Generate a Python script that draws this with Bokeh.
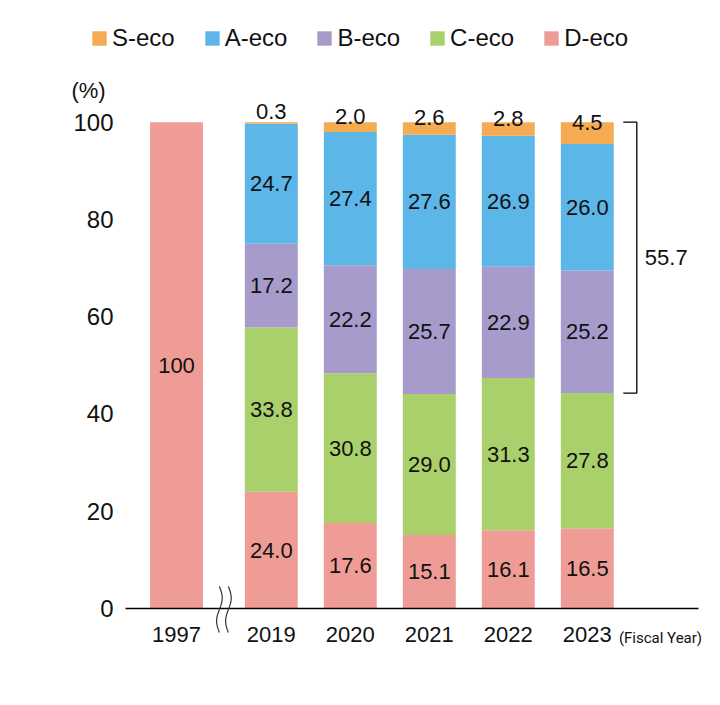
import math
from bokeh.plotting import figure
from bokeh.models import (ColumnDataSource, Legend, LegendItem, FixedTicker,
                          Label, Range1d)
from bokeh.core.properties import value
from bokeh.embed import file_html
from bokeh.resources import INLINE

# ---------------- data ----------------
years = ["1997", "2019", "2020", "2021", "2022", "2023"]
d_eco = [100.0, 24.0, 17.6, 15.1, 16.1, 16.5]
c_eco = [0.0, 33.8, 30.8, 29.0, 31.3, 27.8]
b_eco = [0.0, 17.2, 22.2, 25.7, 22.9, 25.2]
a_eco = [0.0, 24.7, 27.4, 27.6, 26.9, 26.0]
s_eco = [0.0, 0.3, 2.0, 2.6, 2.8, 4.5]
y_ticks = [0, 20, 40, 60, 80, 100]
series_names = ["D-eco", "C-eco", "B-eco", "A-eco", "S-eco"]   # bottom -> top
legend_order = ["S-eco", "A-eco", "B-eco", "C-eco", "D-eco"]

# ---------------- styles / layout ----------------
COLORS = {"S-eco": "#F5AB52", "A-eco": "#5CB6E8", "B-eco": "#A69BCB",
          "C-eco": "#A9D06B", "D-eco": "#F09C96"}
FONT = "Liberation Sans"
TXT = "#111111"
W, H = 720, 705
STEP, GAP = 5, 1                      # category spacing and axis-break gap
BAR_W = 3.35
X0_PX, PX_PER_X = 176, 15.8           # first category position on the canvas
Y0_PX, PX_PER_Y = 608, 4.863          # zero line on the canvas
AXIS_L_PX, AXIS_R_PX = 125, 698

def px_x(px):
    return (px - X0_PX) / PX_PER_X

def px_y(py):
    return (Y0_PX - py) / PX_PER_Y

xs = [0] + [i * STEP + GAP for i in range(1, len(years))]

src = ColumnDataSource(dict(x=xs, **{"D-eco": d_eco, "C-eco": c_eco, "B-eco": b_eco,
                                      "A-eco": a_eco, "S-eco": s_eco}))

p = figure(width=W, height=H, output_backend="svg", toolbar_location=None,
           x_range=Range1d(px_x(0), px_x(W)), y_range=Range1d(px_y(H), px_y(0)),
           min_border=0)
p.outline_line_color = None
p.xgrid.visible = False
p.ygrid.visible = False
p.background_fill_color = "white"
p.border_fill_color = "white"

renderers = p.vbar_stack(series_names, x="x", width=BAR_W, source=src,
                         color=[COLORS[n] for n in series_names], line_color=None)
rmap = dict(zip(series_names, renderers))

# ---------------- value labels ----------------
values = {"D-eco": d_eco, "C-eco": c_eco, "B-eco": b_eco, "A-eco": a_eco, "S-eco": s_eco}
lab_x, lab_y, lab_t, top_x, top_y, top_t = [], [], [], [], [], []
for i, x in enumerate(xs):
    base = 0.0
    for n in series_names:
        v = values[n][i]
        if v > 0:
            txt = "100" if v == 100 else f"{v:.1f}"
            if n == "S-eco":
                top_x.append(x); top_y.append(base + v / 2); top_t.append(txt)
            else:
                lab_x.append(x); lab_y.append(base + v / 2); lab_t.append(txt)
        base += v

p.text(x=lab_x, y=lab_y, text=lab_t, text_align="center", text_baseline="middle",
       text_font=value(FONT), text_font_size="22px", text_color=TXT)
p.text(x=top_x, y=top_y, text=top_t, text_align="center", text_baseline="middle",
       y_offset=-11, text_font=value(FONT), text_font_size="22px", text_color=TXT)

# ---------------- bracket on the right ----------------
last = len(xs) - 1
total = sum(values[n][last] for n in series_names)
upper = s_eco[last] + a_eco[last] + b_eco[last]
top, bottom = total, total - upper
xv = xs[last] + 49.5 / PX_PER_X
xh = xs[last] + 36 / PX_PER_X
p.multi_line(xs=[[xh, xv, xv, xh]], ys=[[top, top, bottom, bottom]],
             line_color="black", line_width=1.3)
p.text(x=[xv + 8 / PX_PER_X], y=[(top + bottom) / 2], text=[f"{upper:.1f}"],
       text_align="left", text_baseline="middle", text_font=value(FONT),
       text_font_size="22px", text_color=TXT)

# ---------------- baseline and axis break ----------------
p.segment(x0=[px_x(AXIS_L_PX)], y0=[0], x1=[px_x(AXIS_R_PX)], y1=[0],
          line_color="black", line_width=1.3)
xc = (xs[0] + xs[1]) / 2
amp = 2.8 / PX_PER_X
for dx in (-4.5 / PX_PER_X, 4.5 / PX_PER_X):
    n = 40
    ty = [px_y(586) + (px_y(632) - px_y(586)) * k / (n - 1) for k in range(n)]
    tx = [xc + dx + amp * math.sin(2 * math.pi * k / (n - 1)) for k in range(n)]
    p.line(tx, ty, line_color="#333333", line_width=1.2)

# ---------------- axes (fixed inside the canvas) ----------------
p.xaxis.fixed_location = 0
p.xaxis.ticker = FixedTicker(ticks=xs)
p.xaxis.major_label_overrides = {x: y for x, y in zip(xs, years)}
p.xaxis.axis_line_color = None
p.xaxis.major_tick_line_color = None
p.xaxis.minor_tick_line_color = None
p.xaxis.major_tick_out = 0
p.xaxis.major_tick_in = 0
p.xaxis.major_label_standoff = 18
p.xaxis.major_label_text_font = FONT
p.xaxis.major_label_text_font_size = "22px"
p.xaxis.major_label_text_color = TXT

p.yaxis.fixed_location = px_x(AXIS_L_PX)
p.yaxis.ticker = FixedTicker(ticks=y_ticks)
p.yaxis.axis_line_color = None
p.yaxis.major_tick_line_color = None
p.yaxis.minor_tick_line_color = None
p.yaxis.major_tick_out = 0
p.yaxis.major_tick_in = 0
p.yaxis.major_label_standoff = 12
p.yaxis.major_label_text_font = FONT
p.yaxis.major_label_text_font_size = "24px"
p.yaxis.major_label_text_color = TXT

p.add_layout(Label(x=px_x(88), y=px_y(90), text="(%)", text_align="center",
                   text_baseline="middle", text_font=FONT, text_font_size="22px",
                   text_color=TXT))
p.add_layout(Label(x=px_x(660), y=px_y(637), text="(Fiscal Year)", text_align="center",
                   text_baseline="middle", text_font="Roboto",
                   text_font_size="15px", text_color=TXT))

# ---------------- legend ----------------
legend = Legend(items=[LegendItem(label=n, renderers=[rmap[n]]) for n in legend_order],
                location=(90, H - 52), orientation="horizontal",
                glyph_width=18, glyph_height=18, label_standoff=4, spacing=28,
                padding=0, margin=0, border_line_alpha=0, background_fill_alpha=0,
                label_text_font=FONT, label_text_font_size="24px",
                label_text_color=TXT)
p.add_layout(legend)

open("out.html", "w").write(file_html(p, INLINE))
